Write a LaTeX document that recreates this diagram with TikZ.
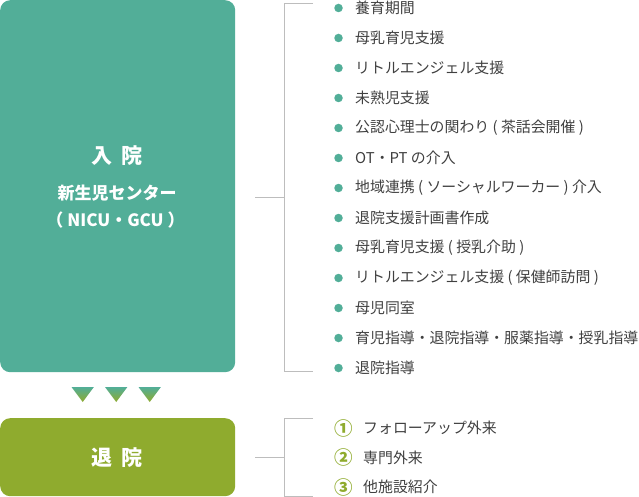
\documentclass[tikz,border=0pt]{standalone}
\usepackage{fontspec}
\setmainfont{Noto Sans CJK JP}
\definecolor{tealc}{HTML}{52AE98}
\definecolor{olivec}{HTML}{8FAB2E}
\definecolor{txtc}{HTML}{404040}
\definecolor{brkc}{HTML}{BDBDBD}
\begin{document}
\begin{tikzpicture}[x=1pt,y=-1pt,
  stagebox/.style={rounded corners=10pt, inner sep=0pt, anchor=north west, minimum width=235pt},
  stagelabel/.style={text=white, font=\bfseries\fontsize{21}{24}\selectfont, inner sep=0pt},
  sublabel/.style={text=white, font=\bfseries\fontsize{17}{20}\selectfont, inner sep=0pt},
  item/.style={anchor=west, inner sep=0pt, text=txtc, font=\fontsize{14.9}{16}\selectfont},
  dotc/.style={circle, fill=tealc, minimum size=8.5pt, inner sep=0pt},
  numc/.style={inner sep=0pt, text=olivec, font=\bfseries\fontsize{18.5}{20}\selectfont},
  brk/.style={draw=brkc, line width=0.9pt},
  tri/.style={top color=tealc, bottom color=olivec}]
\useasboundingbox (0,0) rectangle (639,497);

% stage boxes
\node[stagebox, fill=tealc, minimum height=372pt] (adm) at (0,0) {};
\node[stagebox, fill=olivec, minimum height=78pt] (dis) at (0,418) {};

\node[stagelabel] (admt) at (117,156) {入\hspace{0.45em}院};
\node[sublabel] (adms1) at (117,193) {新生児センター};
\node[sublabel] (adms2) at (115.5,220) {（ NICU・GCU ）};
\node[stagelabel] (dist) at (117,458) {退\hspace{0.45em}院};

% arrows (triangles)
\foreach \cx in {82.7,116.2,149.7}{
  \shade[tri] (\cx-11.2,387) -- (\cx+11.2,387) -- (\cx,402) -- cycle;
}

% bracket 1
\coordinate (s1) at (255,197);
\coordinate (j1) at (284,197);
\coordinate (bt1) at (284,3);
\coordinate (bb1) at (284,371);
\coordinate (et1) at (313,3);
\coordinate (eb1) at (313,371);
\draw[brk] (s1) -- (j1);
\draw[brk] (et1) -- (bt1) -- (bb1) -- (eb1);

% bracket 2
\coordinate (s2) at (255,457);
\coordinate (j2) at (284,457);
\coordinate (bt2) at (284,418);
\coordinate (bb2) at (284,496);
\coordinate (et2) at (313,418);
\coordinate (eb2) at (313,496);
\draw[brk] (s2) -- (j2);
\draw[brk] (et2) -- (bt2) -- (bb2) -- (eb2);

% admission items
\foreach \t [count=\i] in {
  {養育期間},
  {母乳育児支援},
  {リトルエンジェル支援},
  {未熟児支援},
  {公認心理士の関わり ( 茶話会開催 )},
  {OT・PT の介入},
  {地域連携 ( ソーシャルワーカー ) 介入},
  {退院支援計画書作成},
  {母乳育児支援 ( 授乳介助 )},
  {リトルエンジェル支援 ( 保健師訪問 )},
  {母児同室},
  {育児指導・退院指導・服薬指導・授乳指導},
  {退院指導}}{
  \node[dotc] (d\i) at (338.5, {8+30*(\i-1)}) {};
  \node[item] (t\i) at (355, {8+30*(\i-1)}) {\t};
}

% discharge items
\foreach \n/\t [count=\i] in {①/フォローアップ外来, ②/専門外来, ③/他施設紹介}{
  \node[numc] (n\i) at (344, {428+29.5*(\i-1)}) {\n};
  \node[item] (u\i) at (363, {428+29.5*(\i-1)}) {\t};
}
\end{tikzpicture}
\end{document}
